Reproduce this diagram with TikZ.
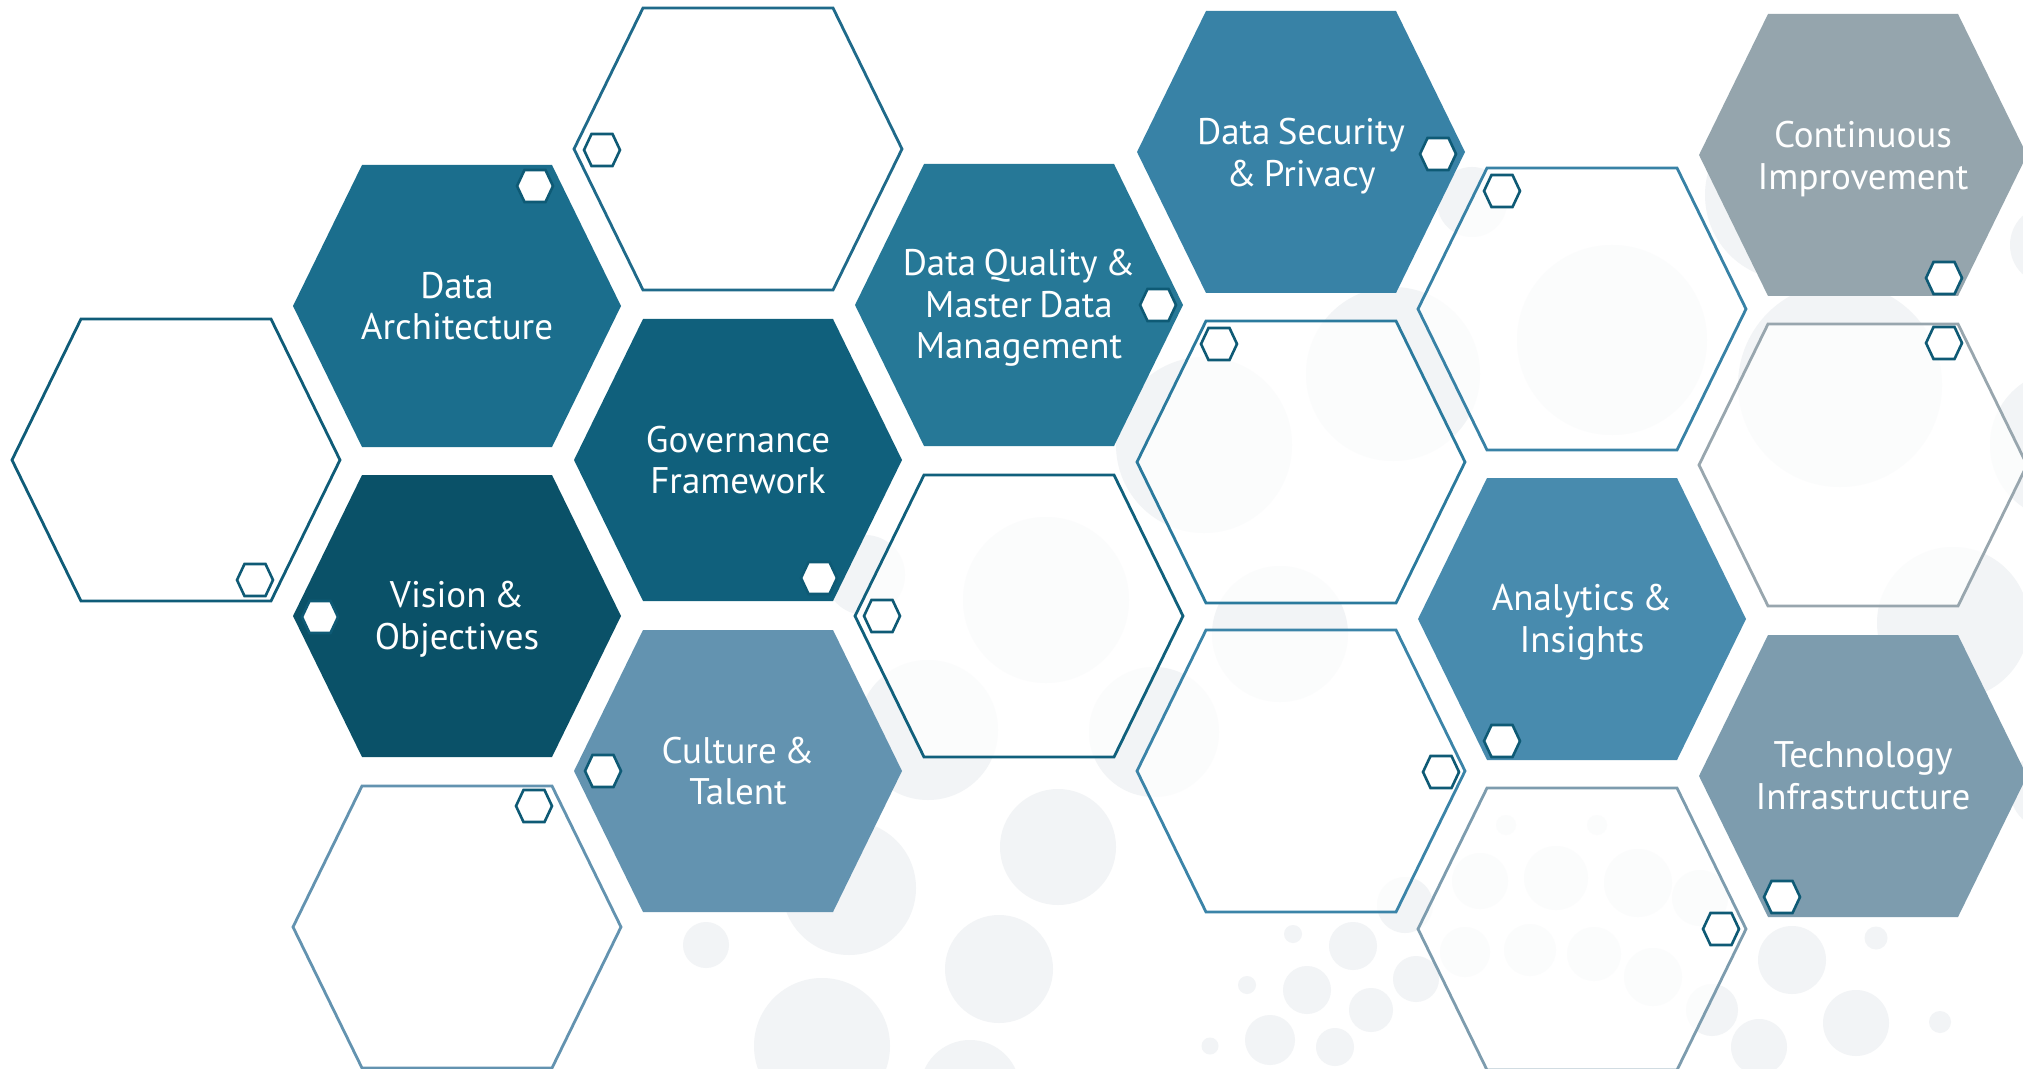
\documentclass[tikz,border=0pt]{standalone}
\usepackage{fontspec}
\setmainfont{PT Sans}
\newcommand{\hexlabelfont}{\fontsize{18.5}{20.8}\selectfont\spaceskip=0.2em\relax}
\definecolor{carch}{HTML}{1B6E8D}
\definecolor{cvision}{HTML}{0A5168}
\definecolor{cgov}{HTML}{10607C}
\definecolor{cculture}{HTML}{6393B0}
\definecolor{cdq}{HTML}{267897}
\definecolor{csec}{HTML}{3882A6}
\definecolor{cana}{HTML}{488BAE}
\definecolor{ccont}{HTML}{95A5AD}
\definecolor{ctech}{HTML}{7D9CAE}
\definecolor{cbub}{HTML}{F2F4F6}
\definecolor{cmini}{HTML}{0E5A75}
\definecolor{oa}{HTML}{0F5C78}
\definecolor{ob}{HTML}{1F6A8A}
\definecolor{oc}{HTML}{6393B0}
\definecolor{od}{HTML}{10607C}
\definecolor{oe}{HTML}{2B7A9D}
\definecolor{of}{HTML}{3B84A8}
\definecolor{og}{HTML}{3882A6}
\definecolor{oh}{HTML}{7D9CAE}
\definecolor{oi}{HTML}{98A6AE}
\tikzset{
  pics/hexa/.style={code={
    \path[pic actions] (-164,0) -- (-95,-141) -- (95,-141) -- (164,0) -- (95,141) -- (-95,141) -- cycle;
  }},
  pics/minihex/.style={code={
    \path[pic actions] (-18,0) -- (-10.5,-16) -- (10.5,-16) -- (18,0) -- (10.5,16) -- (-10.5,16) -- cycle;
  }},
  filledhex/.style={fill=#1},
  openhex/.style={draw=#1, line width=1.4pt, fill=white, fill opacity=0.75},
  mini/.style={draw=cmini, line width=1.3pt, fill=white},
  bub/.style={fill=cbub},
  label/.style={text=white, align=center, font=\hexlabelfont},
}
\begin{document}
\begin{tikzpicture}[x=0.5pt,y=-0.5pt]
\useasboundingbox (0,0) rectangle (2023,1069);
\fill[white] (0,0) rectangle (2023,1069);
\clip (0,0) rectangle (2023,1069);
% background bubbles
\foreach \cx/\cy/\r in {1058/847/58, 999/969/54, 849/888/67, 706/945/23, 822/1046/68, 970/1090/50,
  928/730/70, 1154/732/65, 1046/600/83, 865/575/40, 1293/934/9, 1353/946/24, 1247/985/9,
  1307/990/24, 1416/979/23, 1371/1010/22, 1270/1040/25, 1335/1047/19, 1210/1046/8.5,
  1792/960/34, 1876/938/11.5, 1856/1023/33, 1940/1022/11, 1759/1047/28, 1712/1010/26,
  1280/634/68, 1953/623/76, 1472/202/35, 1393/374/87, 1612/340/95, 1840/385/102,
  1790/195/85, 2050/245/40, 2065/445/75, 1204/445/88, 2050/790/40,
  1480/881/28, 1556/878/32, 1638/883/34, 1465/952/25, 1530/950/26, 1594/954/27,
  1653/977/29, 1506/825/10, 1597/825/10, 1700/898/28, 1405/905/28}
  \fill[bub] (\cx,\cy) circle[radius=\r];
% filled hexagons
\pic[filledhex=carch] at (457,306) {hexa};
\pic[filledhex=cvision] at (457,616) {hexa};
\pic[filledhex=cgov] at (738,460) {hexa};
\pic[filledhex=cculture] at (738,771) {hexa};
\pic[filledhex=cdq] at (1019,305) {hexa};
\pic[filledhex=csec] at (1301,152) {hexa};
\pic[filledhex=cana] at (1582,619) {hexa};
\pic[filledhex=ccont] at (1863,155) {hexa};
\pic[filledhex=ctech] at (1863,776) {hexa};
% outlined hexagons
\pic[openhex=oa] at (176,460) {hexa};
\pic[openhex=ob] at (738,149) {hexa};
\pic[openhex=oc] at (457,927) {hexa};
\pic[openhex=od] at (1019,616) {hexa};
\pic[openhex=oe] at (1301,462) {hexa};
\pic[openhex=of] at (1301,771) {hexa};
\pic[openhex=og] at (1582,309) {hexa};
\pic[openhex=oh] at (1582,929) {hexa};
\pic[openhex=oi] at (1863,465) {hexa};
% small hexagons
\foreach \mx/\my in {535/186, 602/150, 255/580, 320/617, 819/578, 603/771, 534/806,
  1158/305, 882/616, 1438/154, 1219/344, 1441/772, 1502/191, 1502/741, 1721/929,
  1944/278, 1944/343, 1782/897}
  \pic[mini] at (\mx,\my) {minihex};
% labels
\node[label] (arch) at (457,306) {Data\\Architecture};
\node[label] (vision) at (457,619) {Vision \&\\Objectives};
\node[label] (gov) at (738,460) {Governance\\Framework};
\node[label] (culture) at (738,771) {Culture \&\\Talent};
\node[label] (dq) at (1019,308) {Data Quality \&\\Master Data\\Management};
\node[label] (sec) at (1301,156) {Data Security\\\& Privacy};
\node[label] (ana) at (1582,622) {Analytics \&\\Insights};
\node[label] (cont) at (1863,159) {Continuous\\Improvement};
\node[label] (tech) at (1863,776) {Technology\\Infrastructure};
\end{tikzpicture}
\end{document}
